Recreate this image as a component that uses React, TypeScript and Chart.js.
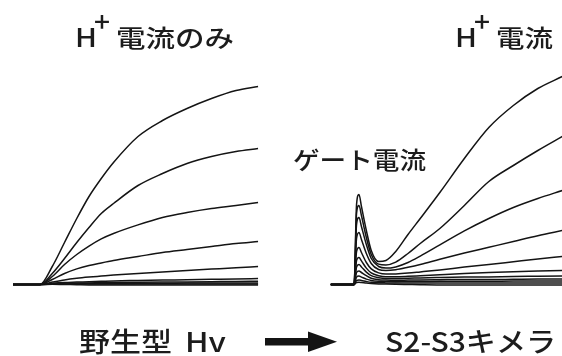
import React, { useEffect, useRef } from "react";
import { Chart, registerables } from "chart.js";

Chart.register(...registerables);

// ---- time bases (ms) ----
const wtTimes = [-11, 0, 5, 10, 15, 20, 25, 30, 40, 50, 60, 70, 80, 89];
const chTimes = [-9.5, 0, 1, 2, 3, 5, 7, 10, 13, 17, 22, 27, 35, 45, 55, 65, 75, 85];
const chOffset = 128.2; // right panel shifted along the time axis

// ---- wild-type Hv: H+ current only (arbitrary current units) ----
const wt1 = [0, 0, 0.9, 2.1, 3.3, 4.4, 5.3, 6.1, 7.4, 8.2, 8.8, 9.3, 9.7, 9.9];
const wt2 = [0, 0, 0.55, 1.3, 2.1, 2.85, 3.55, 4.05, 4.95, 5.55, 6.05, 6.4, 6.65, 6.8];
const wt3 = [0, 0, 0.4, 1.0, 1.5, 1.92, 2.28, 2.55, 2.98, 3.35, 3.6, 3.8, 3.95, 4.1];
const wt4 = [0, 0, 0.25, 0.55, 0.78, 0.95, 1.08, 1.2, 1.4, 1.6, 1.75, 1.9, 2.05, 2.15];
const wt5 = [0, 0, 0.12, 0.23, 0.31, 0.37, 0.42, 0.47, 0.55, 0.62, 0.7, 0.77, 0.84, 0.9];
const wt6 = [0, 0, 0.06, 0.1, 0.12, 0.14, 0.16, 0.18, 0.2, 0.22, 0.24, 0.26, 0.28, 0.3];
const wt7 = [0, 0, 0.04, 0.06, 0.07, 0.08, 0.09, 0.1, 0.11, 0.12, 0.13, 0.14, 0.15, 0.16];
const wt8 = [0, 0, 0.03, 0.04, 0.04, 0.05, 0.05, 0.05, 0.06, 0.06, 0.07, 0.07, 0.08, 0.08];
const wt9 = [0, 0, 0.02, 0.02, 0.02, 0.02, 0.02, 0.03, 0.03, 0.03, 0.03, 0.03, 0.03, 0.03];
const wt10 = [0, 0, 0.01, 0.0, -0.01, -0.02, -0.02, -0.02, -0.03, -0.03, -0.03, -0.03, -0.03, -0.03];

// ---- S2-S3 chimera: gate current spike + H+ current ----
const ch1 = [0, 0, 4.0, 4.5, 3.9, 2.7, 1.7, 1.15, 1.2, 1.65, 2.5, 3.3, 4.6, 6.3, 7.85, 8.95, 9.8, 10.4];
const ch2 = [0, 0, 3.55, 3.95, 3.45, 2.35, 1.5, 1.02, 0.98, 1.12, 1.55, 2.05, 2.8, 3.95, 5.15, 5.95, 6.7, 7.4];
const ch3 = [0, 0, 3.0, 3.35, 2.9, 2.0, 1.3, 0.9, 0.82, 0.88, 1.1, 1.42, 1.98, 2.68, 3.3, 3.85, 4.3, 4.7];
const ch4 = [0, 0, 2.3, 2.6, 2.25, 1.55, 1.05, 0.75, 0.7, 0.74, 0.86, 1.0, 1.26, 1.57, 1.86, 2.15, 2.44, 2.7];
const ch5 = [0, 0, 1.65, 1.85, 1.6, 1.1, 0.78, 0.58, 0.52, 0.53, 0.57, 0.63, 0.73, 0.87, 1.0, 1.14, 1.28, 1.4];
const ch6 = [0, 0, 1.2, 1.35, 1.18, 0.82, 0.58, 0.44, 0.39, 0.39, 0.41, 0.44, 0.49, 0.55, 0.6, 0.64, 0.67, 0.7];
const ch7 = [0, 0, 0.88, 1.0, 0.88, 0.62, 0.44, 0.34, 0.3, 0.3, 0.31, 0.33, 0.35, 0.37, 0.38, 0.4, 0.41, 0.42];
const ch8 = [0, 0, 0.6, 0.68, 0.6, 0.44, 0.31, 0.24, 0.22, 0.21, 0.22, 0.23, 0.24, 0.25, 0.25, 0.26, 0.27, 0.27];
const ch9 = [0, 0, 0.37, 0.42, 0.37, 0.27, 0.2, 0.16, 0.15, 0.14, 0.15, 0.15, 0.16, 0.16, 0.16, 0.17, 0.17, 0.17];
const ch10 = [0, 0, 0.2, 0.22, 0.2, 0.15, 0.11, 0.09, 0.08, 0.07, 0.07, 0.07, 0.07, 0.07, 0.07, 0.07, 0.07, 0.07];
const ch11 = [0, 0, 0.1, 0.11, 0.1, 0.07, 0.05, 0.03, 0.02, 0.01, 0.0, -0.01, -0.02, -0.02, -0.02, -0.03, -0.03, -0.03];

const wtTraces = [wt1, wt2, wt3, wt4, wt5, wt6, wt7, wt8, wt9, wt10];
const chTraces = [ch1, ch2, ch3, ch4, ch5, ch6, ch7, ch8, ch9, ch10, ch11];

// ---- texts ----
const labelH = "H";
const labelPlus = "+";
const titleLeftRest = "電流のみ";
const titleRightRest = "電流";
const gateLabel = "ゲート電流";
const wtLabel = "野生型";
const wtLabel2 = "Hv";
const chLabel = "S2-S3キメラ";

const FONT = '"Noto Sans CJK JP", "Noto Sans", sans-serif';
const INK = "#141414";

function drawFit(ctx: CanvasRenderingContext2D, text: string, x: number, y: number, size: number, width: number) {
  ctx.save();
  ctx.font = `500 ${size}px ${FONT}`;
  ctx.textAlign = "left";
  ctx.textBaseline = "alphabetic";
  const w = ctx.measureText(text).width || 1;
  ctx.translate(x, y);
  ctx.scale(width / w, 1);
  ctx.fillText(text, 0, 0);
  ctx.restore();
}

const textPlugin = {
  id: "figureText",
  afterDraw(chart: any) {
    const ctx: CanvasRenderingContext2D = chart.ctx;
    ctx.save();
    ctx.fillStyle = "#1c1c1c";
    drawFit(ctx, labelH, 75, 47, 25, 22);
    drawFit(ctx, labelPlus, 94, 32, 27, 16);
    drawFit(ctx, titleLeftRest, 116, 47, 24, 118);

    drawFit(ctx, labelH, 455, 47, 25, 22);
    drawFit(ctx, labelPlus, 474, 32, 27, 16);
    drawFit(ctx, titleRightRest, 496, 47, 24, 57);

    drawFit(ctx, gateLabel, 293, 169, 24, 133);

    drawFit(ctx, wtLabel, 79, 352, 27, 93);
    drawFit(ctx, wtLabel2, 185, 352, 27, 41);
    drawFit(ctx, chLabel, 385, 352, 27, 171);

    // arrow
    ctx.fillStyle = INK;
    ctx.fillRect(265, 338, 45, 7.5);
    ctx.beginPath();
    ctx.moveTo(308, 331.5);
    ctx.lineTo(337, 341.8);
    ctx.lineTo(308, 352);
    ctx.closePath();
    ctx.fill();
    ctx.restore();
  },
};

export default function App() {
  const ref = useRef<HTMLCanvasElement | null>(null);

  useEffect(() => {
    if (!ref.current) return;
    const lineStyle = {
      borderColor: INK,
      borderWidth: 1.5,
      pointRadius: 0,
      fill: false,
      cubicInterpolationMode: "monotone" as const,
    };
    const datasets: any[] = [];
    wtTraces.forEach((tr, i) => {
      datasets.push({
        label: `WT ${i + 1}`,
        data: wtTimes.map((t, j) => ({ x: t, y: tr[j] })),
        ...lineStyle,
      });
    });
    chTraces.forEach((tr, i) => {
      datasets.push({
        label: `S2-S3 ${i + 1}`,
        data: chTimes.map((t, j) => ({ x: t + chOffset, y: tr[j] })),
        ...lineStyle,
      });
    });

    const chart = new Chart(ref.current, {
      type: "line",
      data: { datasets },
      options: {
        animation: false,
        responsive: false,
        devicePixelRatio: 1,
        layout: { padding: 0 },
        parsing: false as any,
        normalized: true,
        scales: {
          x: { type: "linear", min: -16.33, max: 213.06, display: false },
          y: { type: "linear", min: -3.575, max: 14.225, display: false },
        },
        plugins: {
          legend: { display: false },
          tooltip: { enabled: false },
          title: { display: false },
        },
      },
      plugins: [textPlugin],
    });
    return () => chart.destroy();
  }, []);

  return (
    <div style={{ position: "fixed", left: 0, top: 0, width: 562, height: 356, background: "#fff" }}>
      <canvas ref={ref} width={562} height={356} style={{ display: "block" }} />
    </div>
  );
}
